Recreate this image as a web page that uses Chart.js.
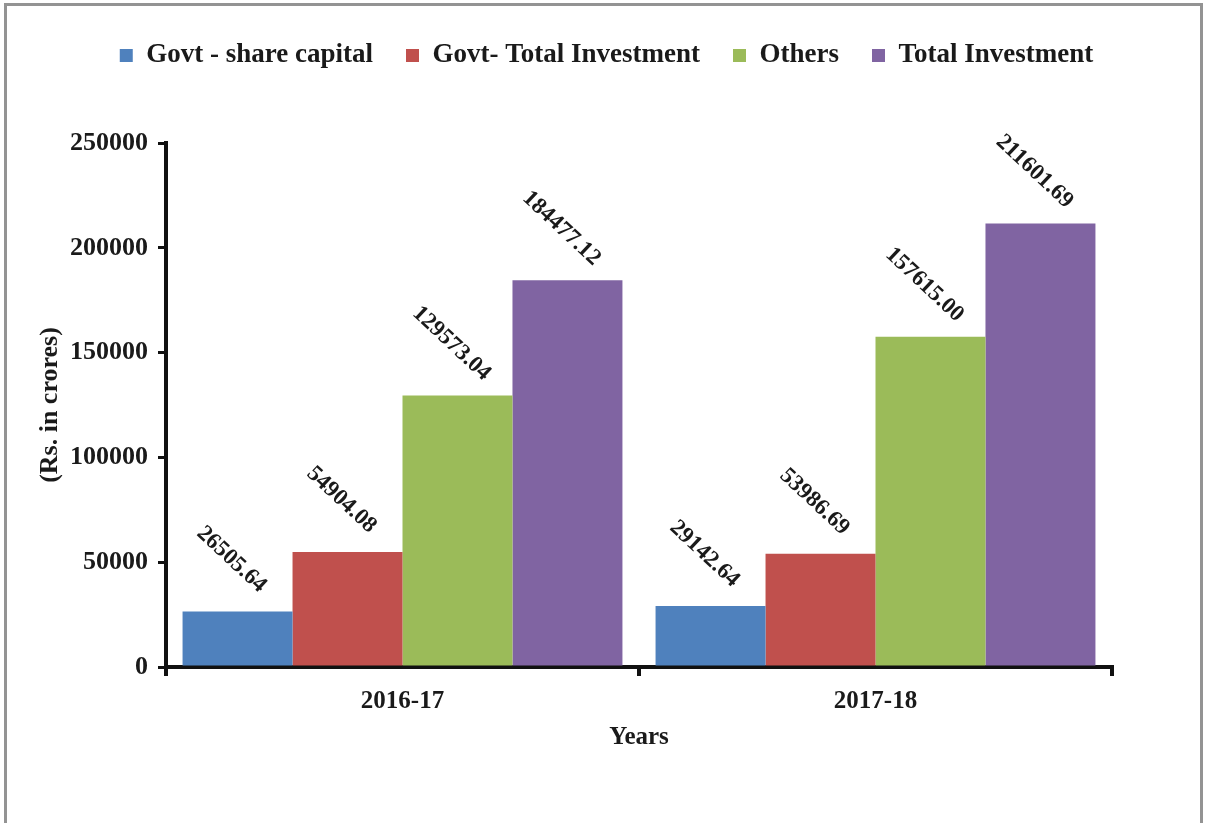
<!DOCTYPE html>
<html>
<head>
<meta charset="utf-8">
<script src="https://cdn.jsdelivr.net/npm/chart.js@4"></script>
<style>
  html, body { margin: 0; padding: 0; background: #fff; overflow: hidden; }
  #frame { position: absolute; left: 4px; top: 3px; width: 1199px; height: 840px; border: 3px solid #939393; box-sizing: border-box; }
  #chart { position: absolute; left: 0; top: 0; }
</style>
</head>
<body>
<div id="frame"></div>
<canvas id="chart" width="1206" height="823"></canvas>
<script>
const years = ['2016-17', '2017-18'];
const govtShareCapital = [26505.64, 29142.64];
const govtTotalInvestment = [54904.08, 53986.69];
const others = [129573.04, 157615.00];
const totalInvestment = [184477.12, 211601.69];
const yTicks = [0, 50000, 100000, 150000, 200000, 250000];

const SERIF = '"Liberation Serif", "Times New Roman", serif';

// spazio extra sotto la legenda + spostamento a destra
const legendGapPlugin = {
  id: 'legendGap',
  beforeInit(chart) {
    const fit = chart.legend.fit;
    chart.legend.fit = function () {
      fit.call(this);
      this.height += 64;
    };
  },
  afterLayout(chart) {
    const lg = chart.legend;
    lg.left += 38;
    lg.right += 38;
  }
};

// etichette ruotate sopra le barre
const barLabelsPlugin = {
  id: 'barLabels',
  afterDatasetsDraw(chart) {
    const ctx = chart.ctx;
    ctx.save();
    ctx.font = 'bold 23px ' + SERIF;
    ctx.fillStyle = '#1a1a1a';
    ctx.textAlign = 'center';
    ctx.textBaseline = 'middle';
    chart.data.datasets.forEach((ds, i) => {
      const meta = chart.getDatasetMeta(i);
      meta.data.forEach((bar, j) => {
        const v = ds.data[j];
        ctx.save();
        ctx.translate(bar.x - 6, bar.y - 52);
        ctx.rotate(43 * Math.PI / 180);
        ctx.fillText(v.toFixed(2), 0, 0);
        ctx.restore();
      });
    });
    ctx.restore();
  }
};

new Chart(document.getElementById('chart'), {
  type: 'bar',
  plugins: [legendGapPlugin, barLabelsPlugin],
  data: {
    labels: years,
    datasets: [
      { label: 'Govt - share capital', data: govtShareCapital, backgroundColor: '#4F81BD' },
      { label: 'Govt- Total Investment', data: govtTotalInvestment, backgroundColor: '#C0504D' },
      { label: 'Others', data: others, backgroundColor: '#9BBB59' },
      { label: 'Total Investment', data: totalInvestment, backgroundColor: '#8064A2' }
    ]
  },
  options: {
    responsive: false,
    animation: false,
    layout: { padding: { left: 25, right: 94, top: 9, bottom: 70 } },
    datasets: { bar: { categoryPercentage: 0.93, barPercentage: 1.0 } },
    scales: {
      x: {
        offset: true,
        grid: { offset: true, drawOnChartArea: false, drawTicks: true, tickLength: 9, color: '#111', lineWidth: 4 },
        border: { display: true, color: '#111', width: 4 },
        ticks: { color: '#1a1a1a', padding: 11, font: { family: SERIF, size: 25, weight: 'bold' } },
        title: { display: true, text: 'Years', color: '#1a1a1a', padding: { top: 4, bottom: 0 }, font: { family: SERIF, size: 25, weight: 'bold' } },
        afterFit(scale) { scale.height = 86; }
      },
      y: {
        min: 0,
        max: 250000,
        grid: { drawOnChartArea: false, drawTicks: true, tickLength: 8, color: '#111', lineWidth: 3 },
        border: { display: true, color: '#111', width: 4 },
        afterBuildTicks(scale) { scale.ticks = yTicks.map(v => ({ value: v })); },
        ticks: {
          color: '#1a1a1a',
          padding: 10,
          font: { family: SERIF, size: 26, weight: 'bold' },
          callback: (v) => String(v)
        },
        title: { display: true, text: '(Rs. in crores)', color: '#1a1a1a', padding: { top: 10, bottom: 0 }, font: { family: SERIF, size: 26, weight: 'bold' } },
        afterFit(scale) { scale.width = 141; }
      }
    },
    plugins: {
      legend: {
        position: 'top',
        labels: {
          boxWidth: 13,
          boxHeight: 13,
          padding: 33,
          color: '#1a1a1a',
          font: { family: SERIF, size: 27, weight: 'bold' }
        }
      },
      tooltip: { enabled: false }
    }
  }
});
</script>
</body>
</html>
